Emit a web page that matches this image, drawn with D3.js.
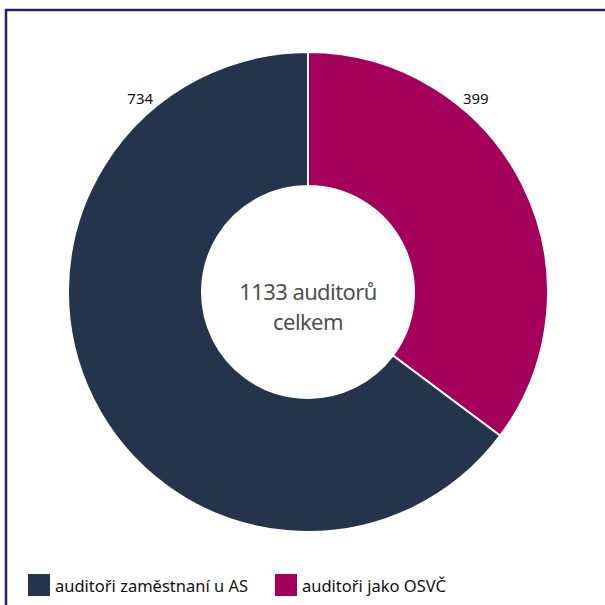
<!DOCTYPE html>
<html>
<head>
<meta charset="utf-8">
<script src="https://cdn.jsdelivr.net/npm/d3@7"></script>
<style>
  body{margin:0;background:#fff;}
  svg{display:block;}
</style>
</head>
<body>
<svg id="chart" width="605" height="605"></svg>
<script>
!function(){
  var categories=["auditoři zaměstnaní u AS","auditoři jako OSVČ"];
  var values=[734,399];
  var colors=["#25344d","#a4005b"];
  var centerLines=["1133 auditorů","celkem"];

  var svg=d3.select("#chart");

  // frame (only left and top edges show in the picture)
  svg.append("rect")
    .attr("x",6).attr("y",10)
    .attr("width",640).attr("height",640)
    .attr("fill","none")
    .attr("stroke","#2b1f5e")
    .attr("stroke-width",2.5);

  var cx=308, cy=292, rOut=240, rIn=106;

  // draw 399 clockwise from 12 o'clock, 734 fills the rest
  var pie=d3.pie().sort(null).value(function(d){return d.v;});
  var data=categories.map(function(c,i){return {c:c,v:values[i],col:colors[i]};});
  var arcs=pie(data.slice().reverse());

  var arc=d3.arc().innerRadius(rIn).outerRadius(rOut);
  var g=svg.append("g").attr("transform","translate("+cx+","+cy+")");

  g.selectAll("path")
    .data(arcs)
    .enter()
    .append("path")
      .attr("d",arc)
      .attr("fill",function(d){return d.data.col;})
      .attr("stroke","#fff")
      .attr("stroke-width",2);

  // value labels, placed a bit past the 12 o'clock edge of each slice
  var off=0.715, rLab=256;
  g.selectAll("text.val")
    .data(arcs)
    .enter()
    .append("text")
      .attr("class","val")
      .attr("x",function(d){
        var a=d.startAngle===0 ? d.startAngle+off : d.endAngle-off;
        return rLab*Math.sin(a);
      })
      .attr("y",function(d){
        var a=d.startAngle===0 ? d.startAngle+off : d.endAngle-off;
        return -rLab*Math.cos(a);
      })
      .attr("dy",".35em")
      .attr("text-anchor","middle")
      .attr("font-family","'Noto Sans',sans-serif")
      .attr("font-size","15px")
      .attr("fill","#111")
      .text(function(d){return d.data.v;});

  g.selectAll("text.center")
    .data(centerLines)
    .enter()
    .append("text")
      .attr("class","center")
      .attr("x",0)
      .attr("y",function(d,i){return 8+i*30;})
      .attr("text-anchor","middle")
      .attr("font-family","'Noto Sans',sans-serif")
      .attr("font-size","22px")
      .attr("letter-spacing","-0.6px")
      .attr("fill","#505050")
      .text(function(d){return d;});

  // legend
  var leg=svg.selectAll("g.leg")
    .data(data)
    .enter()
    .append("g")
      .attr("class","leg")
      .attr("transform",function(d,i){return "translate("+(28+i*247)+",574)";});
  leg.append("rect")
    .attr("width",22).attr("height",22)
    .attr("fill",function(d){return d.col;});
  leg.append("text")
    .attr("x",27).attr("y",18)
    .attr("font-family","'Noto Sans',sans-serif")
    .attr("font-size","16.5px")
    .attr("fill","#111")
    .text(function(d){return d.c;});
}();
</script>
</body>
</html>
